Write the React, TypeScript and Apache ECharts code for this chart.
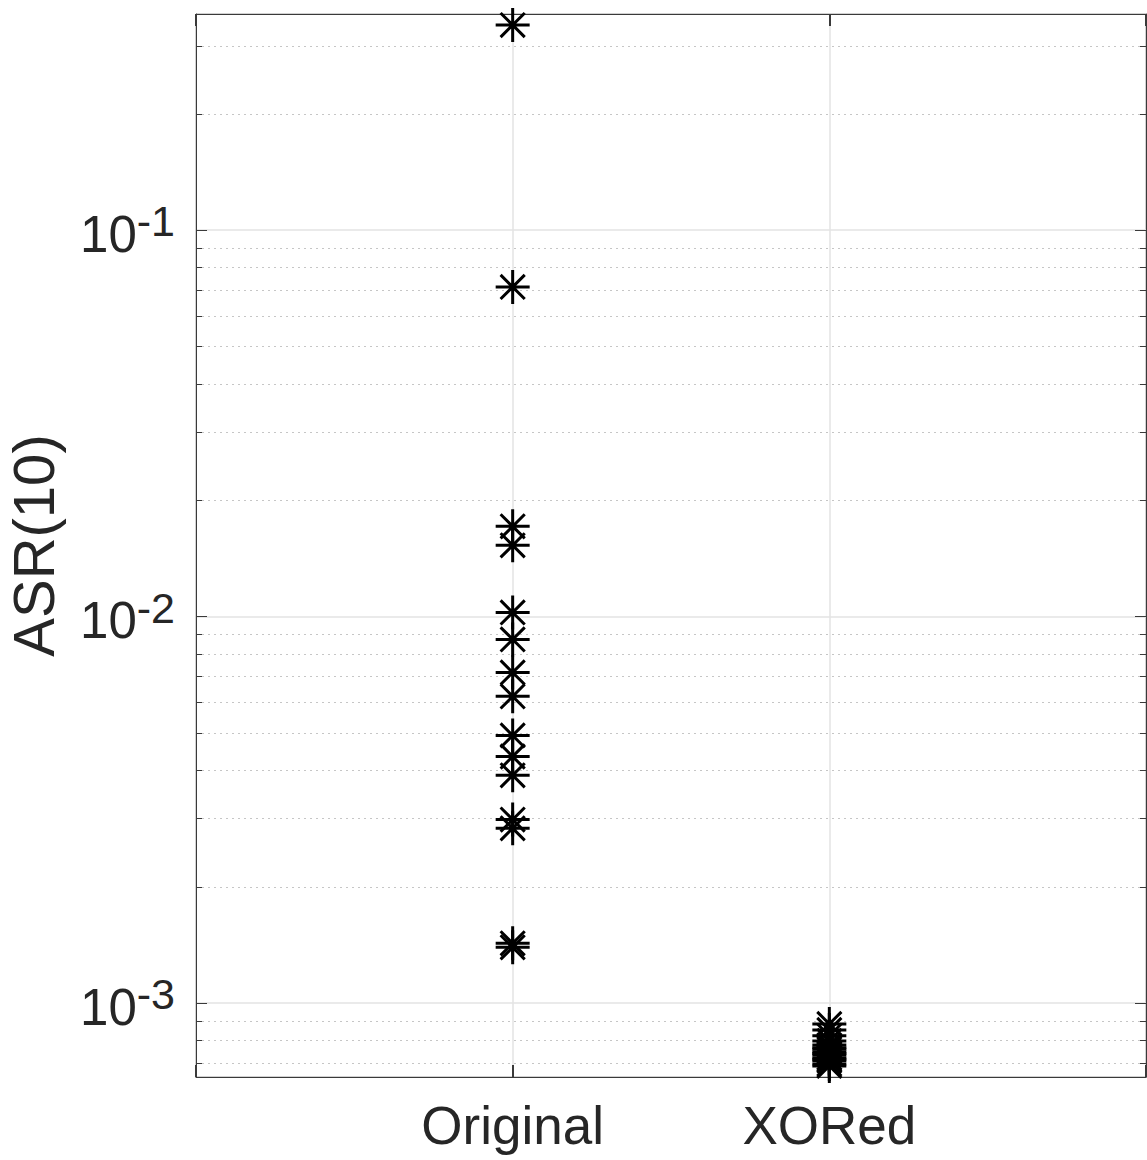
import React, { useEffect, useRef } from "react";
import * as echarts from "echarts";

// Group names placed at x = 1, 2 on a 0..3 axis
const categories = ["Original", "XORed"];

// ASR(10) per run, for each group
const originalASR = [
  0.339, 0.0712, 0.0171, 0.01527, 0.01024, 0.00872, 0.00716, 0.00621, 0.00492,
  0.00434, 0.00388, 0.00298, 0.00283, 0.001426, 0.001392,
];
const xoredASR = [
  0.000882, 0.000851, 0.000822, 0.000797, 0.000778, 0.000765, 0.00076,
  0.000747, 0.00074, 0.000734, 0.000721, 0.000715, 0.000708, 0.000695,
  0.000687,
];

// Y range and the decade labels
const yMin = 6.43e-4;
const yMax = 0.362;
const decadeExponents = [-3, -2, -1];

// Minor log grid lines (2..9 within each decade)
const minorGridValues = [
  7e-4, 8e-4, 9e-4,
  2e-3, 3e-3, 4e-3, 5e-3, 6e-3, 7e-3, 8e-3, 9e-3,
  2e-2, 3e-2, 4e-2, 5e-2, 6e-2, 7e-2, 8e-2, 9e-2,
  0.2, 0.3,
];

const FONT = "'Liberation Sans', Arial, Helvetica, sans-serif";
const TEXT = "#262626";
const AXIS = "#3a3a3a";

const ASTERISK =
  "path://M0,-10L0,10M-10,0L10,0M-7.1,-7.1L7.1,7.1M-7.1,7.1L7.1,-7.1";

function decadeLabel(v: number): string {
  const e = Math.log10(v);
  const r = Math.round(e);
  if (Math.abs(e - r) > 0.01 || decadeExponents.indexOf(r) < 0) return "";
  return `{b|10}{s|${r}}`;
}

export default function App() {
  const ref = useRef<HTMLDivElement>(null);

  useEffect(() => {
    if (!ref.current) return;
    const chart = echarts.init(ref.current, undefined, { renderer: "svg" });

    const scatterSeries = (name: string, xPos: number, values: number[]) => ({
      name,
      type: "scatter",
      xAxisIndex: 0,
      yAxisIndex: 0,
      data: values.map((v) => [xPos, v]),
      symbol: ASTERISK,
      symbolSize: 34,
      clip: false,
      z: 5,
      itemStyle: {
        color: "none",
        borderColor: "#000",
        borderWidth: 3,
        opacity: 1,
      },
      emphasis: { disabled: true },
    });

    chart.setOption({
      animation: false,
      backgroundColor: "#fff",
      grid: {
        left: 196,
        right: 1,
        top: 14,
        bottom: 83,
        outerBoundsMode: "none",
        containLabel: false,
        show: true,
        borderColor: AXIS,
        borderWidth: 1,
        backgroundColor: "#fff",
      },
      xAxis: [
        {
          type: "value",
          min: 0,
          max: 3,
          interval: 1,
          position: "bottom",
          axisLine: { show: true, onZero: false, lineStyle: { color: AXIS, width: 1 } },
          axisTick: { show: true, inside: true, length: 12, lineStyle: { color: AXIS, width: 2 } },
          splitLine: { show: true, lineStyle: { color: "#e3e3e3", width: 1.5 } },
          axisLabel: {
            margin: 22,
            fontSize: 53,
            fontFamily: FONT,
            color: TEXT,
            formatter: (v: number) =>
              v >= 1 && v <= categories.length ? categories[v - 1] : "",
          },
        },
        {
          type: "value",
          min: 0,
          max: 3,
          interval: 1,
          position: "top",
          axisLine: { show: true, onZero: false, lineStyle: { color: AXIS, width: 1 } },
          axisTick: { show: true, inside: true, length: 12, lineStyle: { color: AXIS, width: 2 } },
          splitLine: { show: false },
          axisLabel: { show: false },
        },
      ],
      yAxis: [
        {
          type: "log",
          logBase: 10,
          min: yMin,
          max: yMax,
          position: "left",
          name: "ASR(10)",
          nameLocation: "middle",
          nameGap: 134,
          nameTextStyle: { fontSize: 58, fontFamily: FONT, color: TEXT },
          axisLine: { show: true, onZero: false, lineStyle: { color: AXIS, width: 1 } },
          axisTick: { show: true, inside: true, length: 11, lineStyle: { color: AXIS, width: 1 } },
          splitLine: { show: true, lineStyle: { color: "#e3e3e3", width: 1.5 } },
          axisLabel: {
            margin: 21,
            showMinLabel: false,
            showMaxLabel: false,
            formatter: decadeLabel,
            rich: {
              b: {
                fontSize: 51,
                fontFamily: FONT,
                color: TEXT,
                lineHeight: 60,
                verticalAlign: "bottom",
                padding: [20, 0, 0, 0],
              },
              s: {
                fontSize: 43,
                fontFamily: FONT,
                color: TEXT,
                lineHeight: 54,
                verticalAlign: "top",
              },
            },
          },
        },
        {
          type: "log",
          logBase: 10,
          min: yMin,
          max: yMax,
          position: "right",
          axisLine: { show: true, onZero: false, lineStyle: { color: AXIS, width: 1 } },
          axisTick: { show: true, inside: true, length: 11, lineStyle: { color: AXIS, width: 1 } },
          splitLine: { show: false },
          axisLabel: { show: false },
        },
      ],
      series: [
        {
          name: "minor-grid",
          type: "custom",
          coordinateSystem: "cartesian2d",
          xAxisIndex: 0,
          yAxisIndex: 0,
          silent: true,
          clip: false,
          z: 1,
          data: minorGridValues.map((v) => [0, v]),
          encode: { x: 0, y: 1 },
          renderItem: (_params: any, api: any) => {
            const v = api.value(1);
            const a = api.coord([0, v]);
            const b = api.coord([3, v]);
            const y = Math.round(a[1]) + 0.5;
            return {
              type: "group",
              children: [
                {
                  type: "line",
                  shape: { x1: a[0], y1: y, x2: b[0], y2: y },
                  style: { stroke: "#c6c6c6", lineWidth: 1, lineDash: [2, 4] },
                },
                {
                  type: "line",
                  shape: { x1: a[0], y1: y, x2: a[0] + 6, y2: y },
                  style: { stroke: AXIS, lineWidth: 1 },
                },
                {
                  type: "line",
                  shape: { x1: b[0] - 6, y1: y, x2: b[0], y2: y },
                  style: { stroke: AXIS, lineWidth: 1 },
                },
              ],
            };
          },
        },
        scatterSeries(categories[0], 1, originalASR),
        scatterSeries(categories[1], 2, xoredASR),
      ],
    });

    return () => chart.dispose();
  }, []);

  return (
    <div
      ref={ref}
      style={{ position: "fixed", left: 0, top: 0, width: 1147, height: 1160 }}
    />
  );
}
